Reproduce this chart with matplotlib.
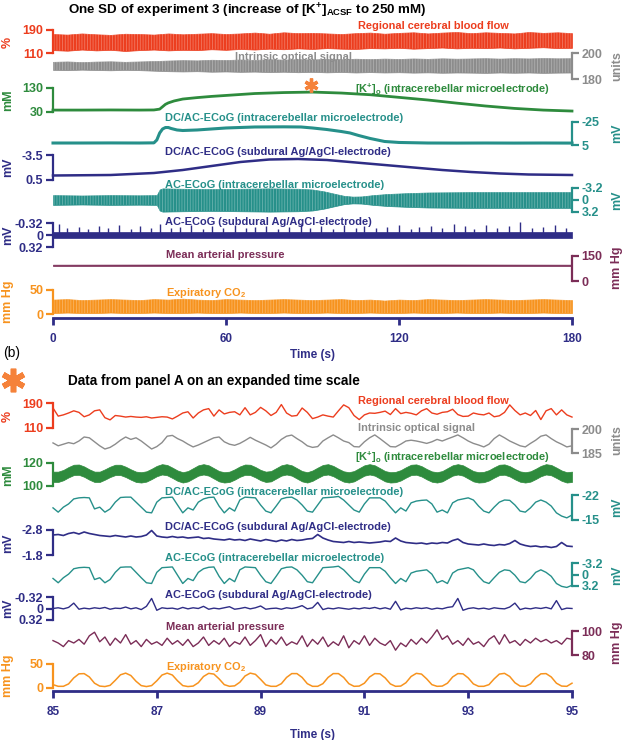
import numpy as np
import matplotlib
matplotlib.use('Agg')
import matplotlib.pyplot as plt

plt.rcParams['font.family'] = 'Liberation Sans'
plt.rcParams['mathtext.fontset'] = 'custom'
plt.rcParams['mathtext.rm'] = 'Liberation Sans'
plt.rcParams['mathtext.bf'] = 'Liberation Sans:bold'
plt.rcParams['mathtext.it'] = 'Liberation Sans:italic'
plt.rcParams['hatch.linewidth'] = 0.6

# ---------------- panel A : whole SD, 0-180 s ----------------
t_a = np.arange(0, 181, 5)

rcbf_a_hi = [176, 174, 178, 175, 173, 177, 176, 174, 178, 175, 177, 179, 176, 178, 181, 177, 182, 179, 180,
             178, 176, 179, 181, 177, 180, 182, 178, 181, 183, 179, 182, 180, 178, 183, 180, 182, 179]
rcbf_a_lo = [120, 118, 122, 119, 121, 117, 120, 122, 119, 121, 120, 123, 121, 124, 122, 125, 123, 126, 124,
             127, 125, 124, 127, 126, 128, 125, 127, 129, 126, 128, 127, 129, 126, 128, 130, 127, 128]

ios_a_hi = [193.2, 193.5, 193.0, 193.4, 193.6, 193.2, 193.5, 193.8, 194.2, 194.5, 194.3, 194.8, 194.6,
            195.0, 194.7, 195.2, 194.9, 195.3, 195.0, 195.5, 195.2, 195.6, 195.3, 195.7, 195.4, 195.8,
            195.5, 195.9, 195.6, 195.8, 196.0, 195.7, 196.0, 195.8, 196.1, 195.9, 196.0]
ios_a_lo = [187.0, 186.8, 187.2, 186.9, 186.7, 187.0, 186.8, 186.4, 186.0, 185.8, 186.0, 185.6, 185.8,
            185.5, 185.7, 185.3, 185.6, 185.2, 185.5, 185.1, 185.4, 185.0, 185.3, 185.0, 185.2, 184.9,
            185.1, 184.8, 185.0, 184.9, 184.7, 185.0, 184.8, 185.0, 184.7, 184.9, 185.0]

k_a_t = [0, 10, 20, 30, 35, 37, 38, 39, 40, 42, 45, 50, 55, 60, 70, 80, 90, 100, 110, 120, 130, 140, 150,
         160, 170, 180]
k_a_v = [38, 38, 38.5, 38, 38.5, 42, 52, 62, 68, 76, 84, 90, 95, 99, 107, 111, 113, 109, 102, 91, 80, 67,
         55, 45, 38, 34]

dc_a_t = [0, 10, 20, 30, 35, 36, 37, 38, 39, 40, 41, 43, 45, 50, 55, 60, 70, 80, 86, 90, 95, 100, 103, 106,
          110, 115, 120, 130, 140, 150, 160, 170, 180]
dc_a_v = [2.4, 2.4, 2.3, 2.4, 2.2, -1.5, -10.7, -15.9, -17.8, -17.8, -16.5, -14.6, -13.9, -14.6, -15.9,
          -17.2, -18.5, -18.7, -18.5, -17.2, -15.2, -12.6, -10.7, -7.4, -3.5, 0.4, 1.7, 2.4, 2.5, 2.4,
          2.5, 2.4, 2.5]

dcs_a_t = [0, 20, 35, 45, 55, 65, 75, 85, 95, 105, 115, 125, 135, 145, 155, 165, 180]
dcs_a_v = [-0.22, -0.3, -0.62, -1.1, -1.74, -2.38, -2.78, -2.86, -2.7, -2.3, -1.9, -1.5, -1.1, -0.78,
           -0.54, -0.38, -0.3]

ac_a_t = [0, 10, 20, 30, 36, 37, 38, 45, 55, 65, 75, 85, 90, 94, 98, 101, 104, 107, 111, 116, 122, 130,
          145, 160, 180]
ac_a_amp = [1.3, 1.2, 1.3, 1.25, 1.3, 2.8, 3.1, 3.0, 2.9, 3.0, 3.1, 3.0, 2.8, 2.3, 1.6, 1.1, 0.9, 0.95,
            1.3, 1.6, 1.8, 2.0, 2.1, 2.1, 2.1]

acs_a_noise = 0.07
acs_a_spike_t = [2, 5, 9, 12, 16, 19, 23, 27, 30, 34, 37, 41, 44, 48, 52, 55, 59, 63, 67, 70, 74, 78, 82,
                 86, 89, 93, 97, 101, 105, 108, 112, 116, 120, 124, 127, 131, 135, 139, 143, 146, 150,
                 154, 158, 162, 166, 170, 174, 178]
acs_a_spike_v = [-0.30, -0.18, -0.22, -0.15, -0.25, -0.2, -0.28, -0.17, -0.24, -0.2, -0.3, -0.18, -0.22,
                 -0.26, -0.15, -0.24, -0.2, -0.27, -0.18, -0.22, -0.25, -0.16, -0.21, -0.3, -0.19, -0.23,
                 -0.17, -0.26, -0.2, -0.24, -0.18, -0.22, -0.28, -0.16, -0.21, -0.25, -0.19, -0.3, -0.23,
                 -0.17, -0.26, -0.2, -0.24, -0.34, -0.2, -0.22, -0.27, -0.19]

map_a_t = [0, 45, 90, 135, 180]
map_a_hi = [98, 99, 98, 99, 98]
map_a_lo = [90, 91, 90, 91, 90]

co2_a_hi = [30, 31, 29, 30, 31, 30, 29, 31, 30, 32, 30, 29, 31, 30, 29, 30, 31, 30, 29, 30, 31, 29, 30,
            28, 30, 29, 31, 30, 29, 30, 31, 30, 29, 30, 31, 30, 29]
co2_a_lo = [2, 3, 2, 2, 3, 2, 2, 3, 2, 2, 3, 2, 2, 3, 2, 2, 3, 2, 2, 3, 2, 2, 3, 2, 2, 3, 2, 2, 3, 2, 2,
            3, 2, 2, 3, 2, 2]

# ---------------- panel B : 85-95 s, 0.1 s steps ----------------
t_b = np.linspace(85, 95, 101)

rcbf_b = [174, 148, 152, 158, 165, 160, 146, 152, 165, 168,
          143, 136, 150, 148, 145, 147, 145, 144, 146, 142,
          144, 146, 145, 139, 148, 158, 162, 142, 158, 168,
          172, 148, 168, 155, 160, 162, 152, 175, 152, 160,
          176, 165, 150, 160, 185, 158, 148, 150, 174, 160,
          140, 145, 152, 148, 145, 165, 184, 175, 150, 137,
          152, 158, 157, 160, 164, 153, 172, 156, 160, 157,
          152, 165, 172, 158, 154, 160, 162, 170, 153, 147,
          148, 158, 154, 152, 158, 146, 149, 160, 184, 166,
          152, 158, 150, 166, 137, 165, 172, 152, 168, 152,
          145]

ios_b = [191.3, 189.5, 190.5, 191.5, 190.8, 192.5, 195.0, 194.5, 192.0, 189.5,
         187.5, 188.5, 190.5, 193.0, 195.0, 193.5, 194.5, 192.5, 190.0, 187.5,
         189.0, 191.5, 195.5, 196.0, 194.0, 192.5, 190.5, 188.8, 190.0, 191.5,
         193.0, 194.5, 195.0, 192.0, 190.5, 189.8, 191.0, 192.8, 194.8, 193.0,
         191.5, 190.0, 188.2, 190.5, 193.5, 195.5, 196.2, 194.0, 192.0, 189.5,
         188.5, 189.0, 192.5, 194.5, 196.3, 194.5, 192.5, 191.5, 189.0, 188.8,
         192.0, 194.5, 196.3, 194.0, 191.5, 189.0, 188.8, 190.5, 192.5, 193.0,
         192.5, 191.8, 191.0, 192.0, 193.5, 192.5, 193.8, 195.0, 196.3, 194.5,
         192.5, 191.0, 190.0, 188.8, 190.5, 194.0, 196.3, 194.5, 192.5, 191.0,
         189.5, 188.8, 191.0, 193.0, 195.5, 196.3, 194.0, 192.0, 190.5, 188.8,
         189.5]

k_b_mid = [108, 108, 109.5, 112, 114, 114.2, 112.5, 110, 108, 108,
           110, 112.3, 114, 114, 112.3, 110, 108, 107.5, 108.3, 110.5,
           113, 114.5, 113.8, 111.5, 109, 107.5, 108.5, 111, 113.5, 114.5,
           113.5, 111, 108.5, 107.5, 108, 110, 112.5, 114.2, 114, 112,
           109.5, 108, 108.5, 111, 113.5, 114.5, 113.5, 111, 108.5, 107.5,
           109, 111.5, 113.8, 114.5, 113, 110.5, 108.3, 107.5, 108.5, 111,
           113.5, 114.5, 113.5, 111, 108.5, 107.5, 107.8, 109.3, 111.8, 114,
           114.3, 112.8, 110.3, 108.2, 107.5, 108.5, 111, 113.5, 114.5, 113.5,
           111, 108.5, 107.5, 107.8, 109.3, 111.8, 114, 114.3, 112.8, 110.3,
           108.2, 107.5, 108.3, 110.5, 113, 114.5, 113.8, 111.5, 109, 107.5,
           108]
k_b_ripple = 4.5

dc_b = [-18.4, -17.2, -18.6, -19.5, -20.9, -21.2, -21.3, -21.2, -18.1, -18.6,
        -17.2, -18.1, -20.0, -21.3, -21.4, -21.4, -20.0, -18.6, -17.2, -17.0,
        -20.0, -21.2, -21.3, -21.4, -19.2, -17.0, -18.4, -17.8, -20.0, -20.9,
        -21.3, -21.4, -18.9, -17.0, -18.4, -17.5, -20.6, -21.4, -21.3, -21.2,
        -19.2, -17.5, -17.0, -18.9, -20.9, -21.3, -21.4, -20.6, -19.2, -17.5,
        -17.2, -19.2, -21.2, -21.3, -21.4, -21.6, -20.6, -19.2, -17.8, -17.2,
        -19.5, -21.2, -21.2, -21.2, -20.3, -18.6, -17.0, -18.4, -17.5, -19.8,
        -20.3, -20.5, -20.6, -19.5, -17.2, -17.8, -17.0, -19.8, -20.6, -20.9,
        -21.2, -20.6, -18.9, -17.5, -17.0, -18.6, -20.0, -20.6, -20.5, -19.2,
        -17.5, -17.2, -18.4, -20.0, -20.6, -20.0, -18.9, -17.0, -16.1, -15.6,
        -16.4]

dcs_b = [-2.60, -2.62, -2.58, -2.66, -2.70, -2.64, -2.72, -2.66, -2.62, -2.58,
         -2.56, -2.54, -2.58, -2.55, -2.52, -2.56, -2.52, -2.54, -2.60, -2.78,
         -2.56, -2.52, -2.50, -2.54, -2.50, -2.52, -2.48, -2.50, -2.52, -2.46,
         -2.48, -2.44, -2.42, -2.40, -2.44, -2.40, -2.42, -2.38, -2.44, -2.40,
         -2.36, -2.42, -2.38, -2.34, -2.40, -2.36, -2.42, -2.38, -2.40, -2.44,
         -2.46, -2.62, -2.48, -2.40, -2.34, -2.32, -2.30, -2.34, -2.30, -2.32,
         -2.30, -2.28, -2.30, -2.32, -2.36, -2.34, -2.48, -2.36, -2.30, -2.28,
         -2.26, -2.28, -2.24, -2.28, -2.26, -2.30, -2.28, -2.38, -2.44, -2.30,
         -2.24, -2.22, -2.20, -2.24, -2.20, -2.18, -2.22, -2.20, -2.26, -2.38,
         -2.24, -2.18, -2.14, -2.16, -2.12, -2.14, -2.10, -2.14, -2.30, -2.16,
         -2.14]

ac_b = [1.1, 2.3, 0.9, -0.1, -1.6, -1.9, -2.0, -1.9, 1.4, 0.9,
        2.3, 1.4, -0.6, -2.0, -2.1, -2.1, -0.6, 0.9, 2.3, 2.5,
        -0.6, -1.9, -2.0, -2.1, 0.2, 2.5, 1.1, 1.7, -0.6, -1.6,
        -2.0, -2.1, 0.5, 2.5, 1.1, 2.0, -1.3, -2.1, -2.0, -1.9,
        0.2, 2.0, 2.5, 0.5, -1.6, -2.0, -2.1, -1.3, 0.2, 2.0,
        2.3, 0.2, -1.9, -2.0, -2.1, -2.3, -1.3, 0.2, 1.7, 2.3,
        -0.1, -1.9, -1.9, -1.9, -0.9, 0.9, 2.5, 1.1, 2.0, -0.4,
        -0.9, -1.1, -1.3, -0.1, 2.3, 1.7, 2.5, -0.4, -1.3, -1.6,
        -1.9, -1.3, 0.5, 2.0, 2.5, 0.9, -0.6, -1.3, -1.1, 0.2,
        2.0, 2.3, 1.1, -0.6, -1.3, -0.6, 0.5, 2.5, 3.3, 3.6,
        3.0]

acs_b = [0.0, -0.02, 0.01, -0.03, -0.15, 0.02, -0.01, 0.01, -0.02, 0.0,
         -0.03, 0.02, -0.01, 0.0, -0.04, 0.01, -0.02, 0.03, -0.06, -0.28,
         0.05, -0.02, 0.0, -0.01, 0.02, -0.03, 0.01, -0.02, 0.0, -0.06,
         0.02, -0.01, 0.01, -0.02, -0.05, 0.02, 0.0, -0.03, 0.01, -0.02,
         -0.07, 0.02, 0.0, -0.01, 0.02, -0.02, 0.0, -0.03, -0.08, 0.01,
         -0.02, -0.17, 0.03, -0.01, 0.01, -0.02, 0.0, 0.02, -0.01, 0.01,
         -0.02, 0.0, -0.03, 0.01, -0.02, 0.02, -0.2, 0.04, -0.01, 0.01,
         -0.02, 0.0, -0.02, 0.02, -0.01, 0.01, -0.03, -0.05, -0.28, 0.05,
         0.0, -0.02, 0.01, -0.01, 0.02, -0.02, 0.0, 0.01, -0.04, -0.15,
         0.03, -0.01, 0.01, -0.02, 0.0, -0.03, 0.01, -0.22, 0.03, -0.01,
         0.0]

map_b = [92, 90, 87, 92, 90, 93, 89, 96, 99, 91,
         95, 88, 94, 90, 97, 89, 92, 87, 93, 89,
         91, 88, 94, 89, 92, 88, 93, 87, 90, 95,
         88, 92, 89, 94, 87, 91, 89, 95, 88, 92,
         97, 87, 93, 89, 95, 88, 91, 89, 96, 87,
         93, 89, 95, 87, 91, 88, 96, 86, 92, 89,
         96, 88, 94, 90, 88, 92, 84, 90, 87, 93,
         89, 94, 90, 95, 101, 93, 96, 89, 92, 88,
         94, 89, 91, 87, 93, 96, 89, 97, 90, 92,
         88, 93, 90, 94, 91, 93, 90, 92, 89, 94,
         93]

co2_b = [7, 3.5, 3.5, 8.5, 21, 29.5, 30, 23, 10, 4,
         3, 5.5, 16, 27.5, 31, 26, 14, 5, 3, 5,
         15, 27, 31, 27, 15, 5, 3, 4, 11, 24,
         30.5, 29, 19, 7, 3.5, 4.5, 12, 25, 31, 28.5,
         18, 6.5, 3.5, 3.5, 9, 22, 30, 30, 22, 9,
         3.5, 3.5, 9, 22, 30, 30, 22, 9, 3.5, 4,
         10, 23, 30, 29.5, 21, 8.5, 3.5, 4, 11, 24,
         30.5, 29, 19, 7, 3.5, 4, 10, 23, 30, 29.5,
         21, 8.5, 3.5, 3.5, 7, 19, 29, 30.5, 24, 11,
         4, 3.5, 8.5, 21, 29.5, 30, 23, 10, 4, 3.5,
         10]

# ---------------- style ----------------
RED = '#ec3d1e'
GREY = '#8c8c8c'
GREEN = '#2e8b3d'
TEAL = '#26908a'
NAVY = '#2f2d86'
MAROON = '#7b2d57'
ORANGE = '#f7931e'
STAR = '#f5823a'
STRIPE = (1, 1, 1, 0.3)   # faint white streaks so the dense bands read as traces

W, H = 625.0, 740.0
X0, X1 = 53, 572
fig = plt.figure(figsize=(W / 100, H / 100), dpi=100)


def fy(y):
    return 1 - y / H


def trace_axes(xlim, y0, y1, v0, v1, ybot=None):
    # y0, y1: pixel rows of the scale bar ends; v0, v1: their values
    if ybot is None:
        ybot = y1
    slope = (v1 - v0) / float(y1 - y0)
    ax = fig.add_axes([X0 / W, fy(ybot), (X1 - X0) / W, (ybot - y0) / H])
    ax.set_xlim(xlim)
    ax.set_ylim(v0 + slope * (ybot - y0), v0)
    ax.patch.set_visible(False)
    for s in ax.spines.values():
        s.set_visible(False)
    ax.set_xticks([])
    ax.set_yticks([])
    return ax


def scale_bar(ax, side, ticks, labels, color):
    sp = ax.spines[side]
    sp.set_visible(True)
    sp.set_color(color)
    sp.set_linewidth(1.6)
    sp.set_bounds(min(ticks), max(ticks))
    if side == 'left':
        ax.yaxis.tick_left()
    else:
        ax.yaxis.tick_right()
    ax.set_yticks(ticks)
    ax.set_yticklabels(labels)
    ax.tick_params(axis='y', colors=color, length=5, width=1.6, pad=2, labelsize=9)
    for lab in ax.get_yticklabels():
        lab.set_fontweight('bold')


def band(ax, t, lo, hi, color):
    ax.fill_between(t, lo, hi, color=color, lw=0.5, clip_on=False)
    ax.fill_between(t, lo, hi, facecolor='none', edgecolor=STRIPE, lw=0, hatch='||||||', clip_on=False)


def time_axis(ax, ticks, labels):
    sp = ax.spines['bottom']
    sp.set_visible(True)
    sp.set_color(NAVY)
    sp.set_linewidth(2)
    ax.set_xticks(ticks)
    ax.set_xticklabels(labels)
    ax.tick_params(axis='x', colors=NAVY, length=5, width=2, pad=6, labelsize=8.5)
    for lab in ax.get_xticklabels():
        lab.set_fontweight('bold')


def label(x, y, s, color, size=7.9):
    fig.text(x / W, fy(y), s, color=color, fontsize=size, fontweight='bold', ha='left', va='center')


def unit(x, y, s, color):
    fig.text(x / W, fy(y), s, color=color, fontsize=9, fontweight='bold', rotation=90,
             ha='center', va='center')


KO = r'[K$^{\mathbf{+}}$]$_{\mathbf{o}}$ (intracerebellar microelectrode)'
CO2 = r'Expiratory CO$_{\mathbf{2}}$'

# ================= panel A =================
fig.text(68 / W, fy(15), r'One SD of experiment 3 (increase of [K$^{\mathbf{+}}$]$_{\mathbf{ACSF}}$ to 250 mM)',
         fontsize=9.6, fontweight='bold', ha='left', va='baseline')

ax = trace_axes((0, 180), 30, 53, 190, 110)
scale_bar(ax, 'left', [110, 190], ['110', '190'], RED)
band(ax, t_a, rcbf_a_lo, rcbf_a_hi, RED)
unit(8, 42, '%', RED)
label(358, 26, 'Regional cerebral blood flow', RED)

label(235, 57, 'Intrinsic optical signal', GREY)
ax = trace_axes((0, 180), 53, 79, 200, 180)
scale_bar(ax, 'right', [180, 200], ['180', '200'], GREY)
band(ax, t_a, ios_a_lo, ios_a_hi, GREY)
unit(617, 66, 'units', GREY)

ax = trace_axes((0, 180), 88, 112, 130, 30)
scale_bar(ax, 'left', [30, 130], ['30', '130'], GREEN)
ax.plot(k_a_t, k_a_v, color=GREEN, lw=2, clip_on=False)
ax.plot([89.5], [144], marker=(6, 2, 0), ms=10, mew=2.4, color=STAR, clip_on=False)
unit(8, 100, 'mM', GREEN)
label(355, 89, KO, GREEN)

ax = trace_axes((0, 180), 122, 145, -25, 5)
scale_bar(ax, 'right', [-25, 5], ['-25', '5'], TEAL)
ax.plot(dc_a_t, dc_a_v, color=TEAL, lw=2.2, clip_on=False)
unit(617, 133, 'mV', TEAL)
label(165, 118, 'DC/AC-ECoG (intracerebellar microelectrode)', TEAL)

ax = trace_axes((0, 180), 155, 180, -3.5, 0.5)
scale_bar(ax, 'left', [-3.5, 0.5], ['-3.5', '0.5'], NAVY)
ax.plot(dcs_a_t, dcs_a_v, color=NAVY, lw=1.8, clip_on=False)
unit(8, 167, 'mV', NAVY)
label(165, 152, 'DC/AC-ECoG (subdural Ag/AgCl-electrode)', NAVY)

ax = trace_axes((0, 180), 188, 212, -3.2, 3.2)
scale_bar(ax, 'right', [-3.2, 0, 3.2], ['-3.2', '0', '3.2'], TEAL)
band(ax, ac_a_t, [-a for a in ac_a_amp], ac_a_amp, TEAL)
unit(617, 200, 'mV', TEAL)
label(165, 185, 'AC-ECoG (intracerebellar microelectrode)', TEAL)

ax = trace_axes((0, 180), 223, 247, -0.32, 0.32)
scale_bar(ax, 'left', [-0.32, 0, 0.32], ['-0.32', '0', '0.32'], NAVY)
ax.fill_between([0, 180], [-acs_a_noise] * 2, [acs_a_noise] * 2, color=NAVY, lw=0.5, clip_on=False)
ax.vlines(acs_a_spike_t, 0, acs_a_spike_v, color=NAVY, lw=1.0, clip_on=False)
unit(8, 235, 'mV', NAVY)
label(165, 222, 'AC-ECoG (subdural Ag/AgCl-electrode)', NAVY)

ax = trace_axes((0, 180), 256, 281, 150, 0)
scale_bar(ax, 'right', [0, 150], ['0', '150'], MAROON)
ax.fill_between(map_a_t, map_a_lo, map_a_hi, color=MAROON, lw=0.5, clip_on=False)
unit(617, 268, 'mm Hg', MAROON)
label(166, 255, 'Mean arterial pressure', MAROON)

ax = trace_axes((0, 180), 290, 314, 50, 0, ybot=318)
scale_bar(ax, 'left', [0, 50], ['0', '50'], ORANGE)
band(ax, t_a, co2_a_lo, co2_a_hi, ORANGE)
time_axis(ax, [0, 60, 120, 180], ['0', '60', '120', '180'])
unit(8, 302, 'mm Hg', ORANGE)
label(166, 293, CO2, ORANGE)
fig.text(312 / W, fy(355), 'Time (s)', color=NAVY, fontsize=8.5, fontweight='bold', ha='center', va='center')

# ================= panel B =================
fig.text(3 / W, fy(353), '(b)', fontsize=10, ha='left', va='center')
ax.plot([13 / W], [fy(380)], marker=(6, 2, 0), ms=17, mew=4, color=STAR, transform=fig.transFigure,
        clip_on=False)
fig.text(68 / W, fy(381), 'Data from panel A on an expanded time scale', fontsize=9.8, fontweight='bold',
         ha='left', va='center')

ax = trace_axes((85, 95), 403, 428, 190, 110)
scale_bar(ax, 'left', [110, 190], ['110', '190'], RED)
ax.plot(t_b, rcbf_b, color=RED, lw=1, clip_on=False)
unit(8, 416, '%', RED)
label(358, 401, 'Regional cerebral blood flow', RED)

ax = trace_axes((85, 95), 429, 453, 200, 185)
scale_bar(ax, 'right', [185, 200], ['185', '200'], GREY)
ax.plot(t_b, ios_b, color=GREY, lw=1, clip_on=False)
unit(617, 440, 'units', GREY)
label(358, 428, 'Intrinsic optical signal', GREY)

ax = trace_axes((85, 95), 463, 486, 120, 100)
scale_bar(ax, 'left', [100, 120], ['100', '120'], GREEN)
k_mid = np.array(k_b_mid)
ax.fill_between(t_b, k_mid - k_b_ripple, k_mid + k_b_ripple, color=GREEN, lw=0.5, clip_on=False)
unit(8, 475, 'mM', GREEN)
label(355, 457, KO, GREEN)

ax = trace_axes((85, 95), 495, 520, -22, -15)
scale_bar(ax, 'right', [-22, -15], ['-22', '-15'], TEAL)
ax.plot(t_b, dc_b, color=TEAL, lw=1, clip_on=False)
unit(617, 507, 'mV', TEAL)
label(165, 492, 'DC/AC-ECoG (intracerebellar microelectrode)', TEAL)

ax = trace_axes((85, 95), 530, 555, -2.8, -1.8)
scale_bar(ax, 'left', [-2.8, -1.8], ['-2.8', '-1.8'], NAVY)
ax.plot(t_b, dcs_b, color=NAVY, lw=1.2, clip_on=False)
unit(8, 543, 'mV', NAVY)
label(165, 527, 'DC/AC-ECoG (subdural Ag/AgCl-electrode)', NAVY)

ax = trace_axes((85, 95), 563, 586, -3.2, 3.2)
scale_bar(ax, 'right', [-3.2, 0, 3.2], ['-3.2', '0', '3.2'], TEAL)
ax.plot(t_b, ac_b, color=TEAL, lw=1, clip_on=False)
unit(617, 575, 'mV', TEAL)
label(165, 558, 'AC-ECoG (intracerebellar microelectrode)', TEAL)

ax = trace_axes((85, 95), 597, 620, -0.32, 0.32)
scale_bar(ax, 'left', [-0.32, 0, 0.32], ['-0.32', '0', '0.32'], NAVY)
ax.plot(t_b, acs_b, color=NAVY, lw=1, clip_on=False)
unit(8, 608, 'mV', NAVY)
label(165, 595, 'AC-ECoG (subdural Ag/AgCl-electrode)', NAVY)

ax = trace_axes((85, 95), 631, 655, 100, 80)
scale_bar(ax, 'right', [80, 100], ['80', '100'], MAROON)
ax.plot(t_b, map_b, color=MAROON, lw=1, clip_on=False)
unit(617, 643, 'mm Hg', MAROON)
label(166, 627, 'Mean arterial pressure', MAROON)

ax = trace_axes((85, 95), 664, 688, 50, 0, ybot=691)
scale_bar(ax, 'left', [0, 50], ['0', '50'], ORANGE)
ax.plot(t_b, co2_b, color=ORANGE, lw=1.1, clip_on=False)
time_axis(ax, [85, 87, 89, 91, 93, 95], ['85', '87', '89', '91', '93', '95'])
unit(8, 676, 'mm Hg', ORANGE)
label(166, 667, CO2, ORANGE)
fig.text(312 / W, fy(735), 'Time (s)', color=NAVY, fontsize=8.5, fontweight='bold', ha='center', va='center')

fig.savefig('out.png', dpi=100)
